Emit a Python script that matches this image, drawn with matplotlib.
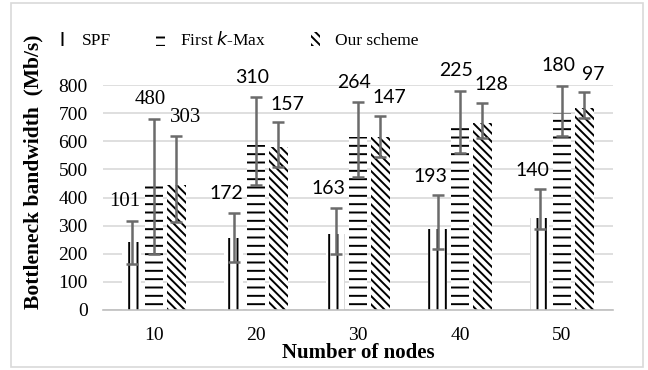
#!/usr/bin/env python
# -*- coding: utf-8 -*-

import numpy as np
import matplotlib
matplotlib.use("Agg")
import matplotlib.pyplot as plt
from matplotlib.patches import Patch, Rectangle

#------------------------------------------------------------------
NODES = ["10", "20", "30", "40", "50"]
SCHEMES = ["SPF", "First $\\it{k}$-Max", "Our scheme"]

SPF_MEAN = [243, 257, 271, 289, 328]
SPF_LOW = [164, 171, 200, 218, 289]
SPF_HIGH = [318, 346, 364, 408, 429]
SPF_LABELS = ["101", "172", "163", "193", "140"]

KMAX_MEAN = [444, 587, 616, 667, 699]
KMAX_LOW = [199, 444, 474, 557, 619]
KMAX_HIGH = [679, 756, 738, 780, 798]
KMAX_LABELS = ["480", "310", "264", "225", "180"]

OUR_MEAN = [444, 581, 614, 664, 717]
OUR_LOW = [314, 510, 543, 610, 682]
OUR_HIGH = [620, 667, 691, 737, 774]
OUR_LABELS = ["303", "157", "147", "128", "97"]

SERIF = "Liberation Serif"
SANS = "Lato"
TICKSIZE = 14
LABELSIZE = 14
ERRCOLOR = "#6b6b6b"
GRIDCOLOR = "#d9d9d9"
#------------------------------------------------------------------

plt.rcParams["hatch.linewidth"] = 1.4
plt.rcParams["hatch.color"] = "black"
plt.rcParams["font.family"] = SERIF

fig = plt.figure(figsize=(6.48, 3.70), dpi=100)
ax = fig.add_axes([103 / 648., 60 / 370., 510 / 648., 225 / 370.])

x = np.arange(len(NODES))
width = 0.18
offset = 0.22

series = [
    (SPF_MEAN, SPF_LOW, SPF_HIGH, SPF_LABELS, -offset, "||", (-7, 19)),
    (KMAX_MEAN, KMAX_LOW, KMAX_HIGH, KMAX_LABELS, 0, "--", (-4, 20)),
    (OUR_MEAN, OUR_LOW, OUR_HIGH, OUR_LABELS, offset, "\\\\\\\\", (9, 18)),
]

for (mean, low, high, labels, off, hatch, txt) in series:
    mean = np.array(mean)
    err = [mean - np.array(low), np.array(high) - mean]
    ax.bar(x + off, mean, width, color="white", edgecolor="black",
           linewidth=0, hatch=hatch, zorder=2)
    ax.errorbar(x + off, mean, yerr=err, fmt="none", ecolor=ERRCOLOR,
                elinewidth=1.8, capsize=4, capthick=1.8, zorder=3)
    for i, lab in enumerate(labels):
        # first group labels are in the serif face, the rest sans
        fam = SERIF if i == 0 else SANS
        size = LABELSIZE + 1 if i == 0 else LABELSIZE
        ax.annotate(lab, (x[i] + off, high[i]), xytext=txt,
                    textcoords="offset pixels", ha="center", va="center",
                    fontsize=size, family=fam, annotation_clip=False)

ax.set_xlim(-0.5, len(NODES) - 0.5)
ax.set_ylim(0, 800)
ax.set_yticks(range(0, 801, 100))
ax.set_xticks(x)
ax.set_xticklabels(NODES)
ax.tick_params(axis="both", length=0, labelsize=TICKSIZE)
ax.tick_params(axis="y", pad=11)
ax.tick_params(axis="x", pad=12)
ax.yaxis.grid(True, color=GRIDCOLOR, linewidth=1.2, zorder=0)
ax.set_axisbelow(True)
for s in ["top", "right", "left"]:
    ax.spines[s].set_visible(False)
ax.spines["bottom"].set_color("#bfbfbf")
ax.spines["bottom"].set_linewidth(1.2)

fig.text(358 / 648., 1 - 353 / 370., "Number of nodes", ha="center",
         va="center", fontsize=15, fontweight="bold")
fig.text(33 / 648., 1 - 172 / 370., "Bottleneck bandwidth  (Mb/s)",
         ha="center", va="center", rotation=90, fontsize=15.5,
         fontweight="bold")

handles = [Patch(facecolor="white", edgecolor="black", linewidth=0, hatch=h)
           for h in ["||", "--", "\\\\\\\\"]]
fig.legend(handles, SCHEMES, loc="center", bbox_to_anchor=(238 / 648., 1 - 40 / 370.),
           ncol=3, frameon=False, fontsize=12.5, handlelength=0.5,
           handleheight=0.8, handletextpad=0.9, columnspacing=2.6)

fig.patches.append(Rectangle((11 / 648., 3 / 370.), 632 / 648., 364 / 370.,
                             transform=fig.transFigure, fill=False,
                             edgecolor=GRIDCOLOR, linewidth=1.2))

plt.savefig("out.png", dpi=100)
